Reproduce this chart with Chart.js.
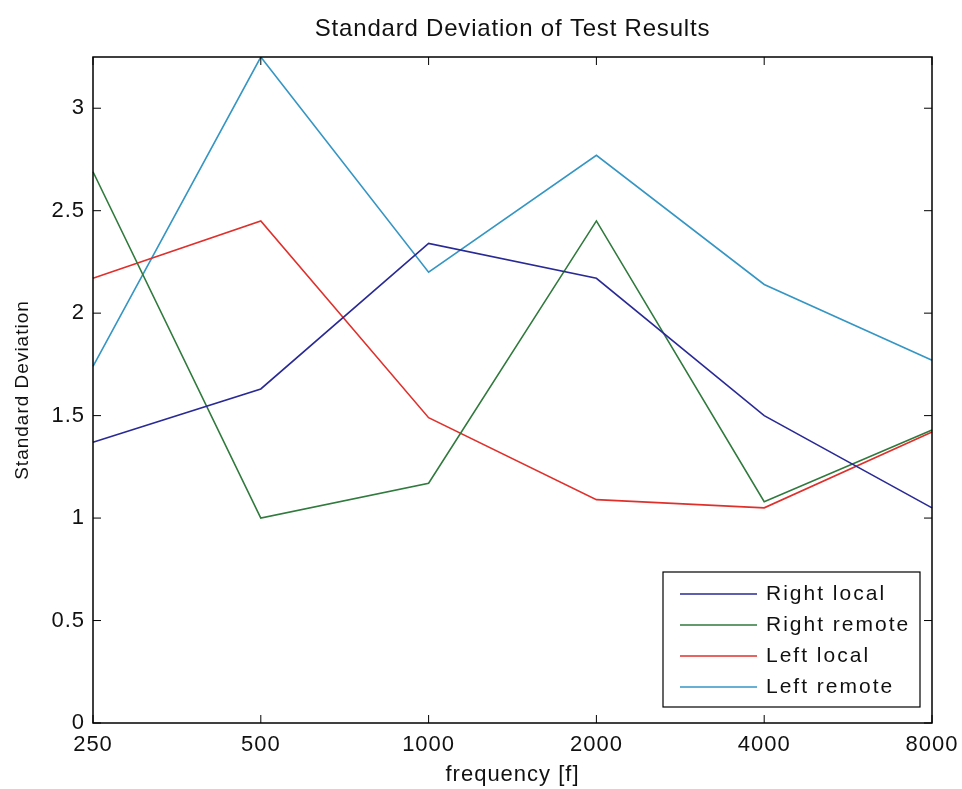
<!DOCTYPE html>
<html>
<head>
<meta charset="utf-8">
<script src="https://cdn.jsdelivr.net/npm/chart.js@4/dist/chart.umd.min.js"></script>
<style>
  html, body { margin: 0; padding: 0; background: #fff; }
  #wrap { width: 962px; height: 789px; }
</style>
</head>
<body>
<div id="wrap"><canvas id="chart" width="962" height="789"></canvas></div>
<script>
// Data
const frequencies = ['250', '500', '1000', '2000', '4000', '8000'];
const rightLocal  = [1.37, 1.63, 2.34, 2.17, 1.50, 1.05];
const rightRemote = [2.69, 1.00, 1.17, 2.45, 1.08, 1.43];
const leftLocal   = [2.17, 2.45, 1.49, 1.09, 1.05, 1.42];
const leftRemote  = [1.74, 3.25, 2.20, 2.77, 2.14, 1.77];
const yTicks = [0, 0.5, 1, 1.5, 2, 2.5, 3];

const FONT = '"Liberation Sans", Arial, sans-serif';
const TITLE = 'Standard Deviation of Test Results';

// Box around the plot, ticks pointing inward, title, legend inside bottom right
const boxPlugin = {
    id: 'matlabBox',
    beforeDraw(chart) {
        // the reference text is a bit spaced out
        chart.ctx.letterSpacing = '1px';
    },
    afterDraw(chart) {
        const ctx = chart.ctx;
        const a = chart.chartArea;
        const xs = chart.scales.x;
        const ys = chart.scales.y;
        const len = 8;
        ctx.save();
        ctx.strokeStyle = '#000';
        ctx.lineWidth = 1.5;
        ctx.strokeRect(a.left, a.top, a.right - a.left, a.bottom - a.top);

        ctx.lineWidth = 1;
        ctx.beginPath();
        xs.ticks.forEach((t, i) => {
            const px = xs.getPixelForTick(i);
            ctx.moveTo(px, a.bottom); ctx.lineTo(px, a.bottom - len);
            ctx.moveTo(px, a.top); ctx.lineTo(px, a.top + len);
        });
        ys.ticks.forEach((t, i) => {
            const py = ys.getPixelForTick(i);
            ctx.moveTo(a.left, py); ctx.lineTo(a.left + len, py);
            ctx.moveTo(a.right, py); ctx.lineTo(a.right - len, py);
        });
        ctx.stroke();

        // title, centred over the plot box
        ctx.fillStyle = '#111';
        ctx.font = '24px ' + FONT;
        ctx.letterSpacing = '0.8px';
        ctx.textAlign = 'center';
        ctx.textBaseline = 'middle';
        ctx.fillText(TITLE, (a.left + a.right) / 2, 29);

        // legend
        const sets = chart.data.datasets;
        const rowH = 31;
        const boxW = 257;
        const boxH = 135;
        const bx = a.right - 12 - boxW;
        const by = a.bottom - 16 - boxH;
        ctx.fillStyle = '#fff';
        ctx.fillRect(bx, by, boxW, boxH);
        ctx.strokeStyle = '#000';
        ctx.lineWidth = 1.2;
        ctx.strokeRect(bx, by, boxW, boxH);
        ctx.font = '21px ' + FONT;
        ctx.letterSpacing = '2px';
        ctx.textAlign = 'left';
        sets.forEach((ds, i) => {
            const cy = by + 22 + i * rowH;
            ctx.strokeStyle = ds.borderColor;
            ctx.lineWidth = 1.5;
            ctx.beginPath();
            ctx.moveTo(bx + 17, cy);
            ctx.lineTo(bx + 94, cy);
            ctx.stroke();
            ctx.fillStyle = '#111';
            ctx.fillText(ds.label, bx + 103, cy);
        });
        ctx.restore();
    }
};

const ctx = document.getElementById('chart').getContext('2d');
const chart = new Chart(ctx, {
    type: 'line',
    data: {
        labels: frequencies,
        datasets: [
            { label: 'Right local',  data: rightLocal,  borderColor: '#2a2a96' },
            { label: 'Right remote', data: rightRemote, borderColor: '#2f7a3c' },
            { label: 'Left local',   data: leftLocal,   borderColor: '#e0302c' },
            { label: 'Left remote',  data: leftRemote,  borderColor: '#3596c4' }
        ].map(d => Object.assign(d, {
            borderWidth: 1.6,
            pointRadius: 0,
            tension: 0,
            fill: false
        }))
    },
    options: {
        responsive: false,
        animation: false,
        layout: { padding: { left: 0, right: 30, top: 57, bottom: 0 } },
        plugins: {
            legend: { display: false },
            tooltip: { enabled: false },
            title: { display: false }
        },
        scales: {
            x: {
                type: 'category',
                offset: false,
                grid: { display: false, tickLength: 0 },
                border: { display: false },
                ticks: {
                    color: '#111',
                    font: { family: FONT, size: 22 },
                    padding: 9,
                    maxRotation: 0,
                    autoSkip: false
                },
                title: {
                    display: true,
                    text: 'frequency [f]',
                    color: '#111',
                    font: { family: FONT, size: 22 },
                    padding: { top: 0, bottom: 1 }
                },
                afterFit(scale) {
                    scale.height = 66;
                    scale.paddingLeft = 0;
                    scale.paddingRight = 0;
                }
            },
            y: {
                min: 0,
                max: 3.25,
                grid: { display: false, tickLength: 0 },
                border: { display: false },
                afterBuildTicks(scale) {
                    scale.ticks = yTicks.map(v => ({ value: v }));
                },
                ticks: {
                    color: '#111',
                    font: { family: FONT, size: 22 },
                    padding: 8,
                    callback: v => String(v)
                },
                title: {
                    display: true,
                    text: 'Standard Deviation',
                    color: '#111',
                    font: { family: FONT, size: 19 },
                    padding: { top: 11, bottom: 0 }
                },
                afterFit(scale) {
                    scale.width = 93;
                    scale.paddingTop = 0;
                    scale.paddingBottom = 0;
                }
            }
        }
    },
    plugins: [boxPlugin]
});
</script>
</body>
</html>
